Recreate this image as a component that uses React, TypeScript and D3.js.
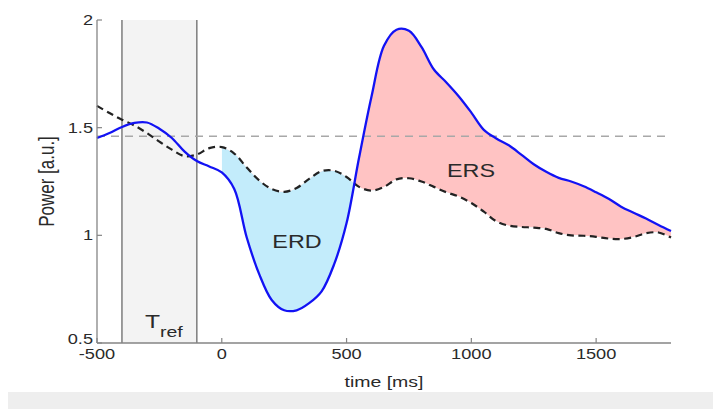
import React from "react";
import * as d3 from "d3";

// time axis samples (ms)
const times = [
  -500, -450, -400, -350, -300, -250, -200, -150, -100, -50,
  0, 50, 100, 150, 200, 250, 300, 350, 400, 450,
  500, 550, 600, 650, 700, 750, 800, 850, 900, 950,
  1000, 1050, 1100, 1150, 1200, 1250, 1300, 1350, 1400, 1450,
  1500, 1550, 1600, 1650, 1700, 1750, 1800,
];

// band power of the trial (blue, solid)
const power = [
  1.452, 1.475, 1.503, 1.522, 1.524, 1.495, 1.452, 1.39, 1.345, 1.32,
  1.292, 1.215, 0.99, 0.82, 0.7, 0.652, 0.652, 0.685, 0.74, 0.865,
  1.057, 1.36, 1.645, 1.88, 1.955, 1.95, 1.875, 1.77, 1.71, 1.645,
  1.57, 1.49, 1.45, 1.418, 1.375, 1.33, 1.295, 1.267, 1.25, 1.228,
  1.2, 1.17, 1.133, 1.105, 1.078, 1.048, 1.02,
];

// reference / control curve (black, dashed)
const control = [
  1.601, 1.568, 1.537, 1.51, 1.475, 1.435, 1.398, 1.368, 1.375, 1.405,
  1.41, 1.38, 1.315, 1.255, 1.215, 1.202, 1.22, 1.262, 1.298, 1.3,
  1.271, 1.225, 1.208, 1.225, 1.26, 1.265, 1.25, 1.225, 1.2, 1.18,
  1.15, 1.11, 1.065, 1.045, 1.039, 1.036, 1.03, 1.01, 1.0, 0.998,
  0.993, 0.985, 0.983, 0.992, 1.01, 1.013, 0.99,
];

const refLevel = 1.46;
const refWindow = [-400, -100];
const xTicks = [-500, 0, 500, 1000, 1500];
const yTicks = [0.5, 1, 1.5, 2];

const W = 713;
const H = 409;
const left = 97;
const right = 671;
const top = 20;
const bottom = 343;
const SX = 1.3; // the source figure has horizontally stretched glyphs
const FONT = "'Liberation Sans', Arial, Helvetica, sans-serif";
const AXIS = "#858585";
const INK = "#2a2a2a";

const stretch = (x: number, y: number) => `translate(${x},${y}) scale(${SX},1)`;

export default function App() {
  const x = d3.scaleLinear().domain([-500, 1800]).range([left, right]);
  const y = d3.scaleLinear().domain([0.5, 2]).range([bottom, top]);
  const curve = d3.curveCatmullRom.alpha(0.5);

  const pts = times.map((t, i) => ({ t, p: power[i], c: control[i] }));
  const post = pts.filter((d) => d.t >= 0);

  const powerLine = d3.line<any>().x((d) => x(d.t)).y((d) => y(d.p)).curve(curve)(pts) as string;
  const controlLine = d3.line<any>().x((d) => x(d.t)).y((d) => y(d.c)).curve(curve)(pts) as string;
  const between = d3.area<any>().x((d) => x(d.t)).y0((d) => y(d.c)).y1((d) => y(d.p)).curve(curve)(post) as string;
  const belowCtrl = d3.area<any>().x((d) => x(d.t)).y0(bottom + 10).y1((d) => y(d.c)).curve(curve)(post) as string;
  const aboveCtrl = d3.area<any>().x((d) => x(d.t)).y0(0).y1((d) => y(d.c)).curve(curve)(post) as string;

  return (
    <div style={{ position: "absolute", left: 0, top: 0 }}>
      <svg width={W} height={H} style={{ display: "block" }} fontFamily={FONT}>
        <defs>
          <clipPath id="below-ctrl">
            <path d={belowCtrl} />
          </clipPath>
          <clipPath id="above-ctrl">
            <path d={aboveCtrl} />
          </clipPath>
        </defs>

        {/* reference window */}
        <rect x={x(refWindow[0])} y={top} width={x(refWindow[1]) - x(refWindow[0])} height={bottom - top} fill="#f3f3f3" />
        {refWindow.map((t) => (
          <line key={t} x1={x(t)} x2={x(t)} y1={top} y2={bottom} stroke="#7c7c7c" strokeWidth={1.5} />
        ))}

        {/* ERD / ERS fills */}
        <path d={between} fill="#c3ecfb" clipPath="url(#below-ctrl)" />
        <path d={between} fill="#ffc3c3" clipPath="url(#above-ctrl)" />

        {/* baseline level */}
        <line x1={x(-500)} x2={x(1800)} y1={y(refLevel)} y2={y(refLevel)} stroke="#a8a8a8" strokeWidth={1.4} strokeDasharray="8,6" />

        <path d={controlLine} fill="none" stroke="#222" strokeWidth={2.2} strokeDasharray="7,4.5" />
        <path d={powerLine} fill="none" stroke="#1212f4" strokeWidth={2.3} />

        {/* axes */}
        <line x1={left} x2={left} y1={top} y2={bottom} stroke={AXIS} strokeWidth={1.3} />
        <line x1={left} x2={right} y1={bottom} y2={bottom} stroke={AXIS} strokeWidth={1.3} />
        {yTicks.map((v) => (
          <g key={v}>
            <line x1={left} x2={left + 5} y1={y(v)} y2={y(v)} stroke={AXIS} strokeWidth={1.2} />
            <text transform={stretch(left - 4, y(v) + (v === 0.5 ? 1 : 5))} textAnchor="end" fontSize={14} fill={INK}>
              {v}
            </text>
          </g>
        ))}
        {xTicks.map((v) => (
          <g key={v}>
            <line x1={x(v)} x2={x(v)} y1={bottom} y2={bottom - 5} stroke={AXIS} strokeWidth={1.2} />
            <text transform={stretch(x(v), bottom + 16)} textAnchor="middle" fontSize={14} fill={INK}>
              {v}
            </text>
          </g>
        ))}

        <text transform={stretch((left + right) / 2, 387)} textAnchor="middle" fontSize={15} fill={INK}>
          time [ms]
        </text>
        <text transform={`translate(54,${(top + bottom) / 2}) scale(${SX},1) rotate(-90)`} textAnchor="middle" fontSize={17} fill={INK}>
          Power [a.u.]
        </text>

        {/* annotations */}
        <text transform={stretch(145, 328)} fontSize={19} fill={INK}>
          T
        </text>
        <text transform={stretch(160, 337)} fontSize={15} fill={INK}>
          ref
        </text>
        <text transform={stretch(297, 248)} textAnchor="middle" fontSize={18} fill={INK}>
          ERD
        </text>
        <text transform={stretch(471, 177)} textAnchor="middle" fontSize={18} fill={INK}>
          ERS
        </text>

        {/* strip below the figure */}
        <rect x={8} y={392} width={W - 8} height={H - 392} fill="#eeeeee" />
      </svg>
    </div>
  );
}
